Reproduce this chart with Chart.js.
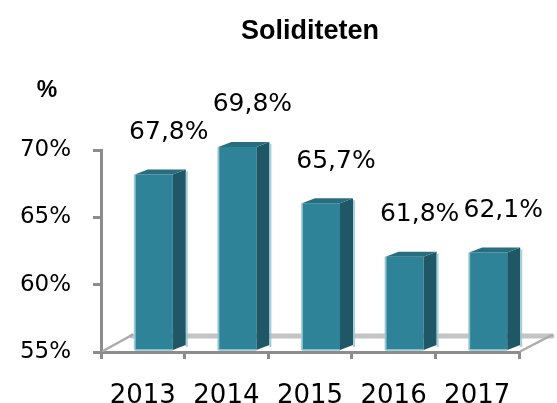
<!DOCTYPE html>
<html>
<head>
<meta charset="utf-8">
<script src="https://cdn.jsdelivr.net/npm/chart.js@4/dist/chart.umd.min.js"></script>
<style>
  body { margin: 0; background: #fff; }
  #wrap { width: 557px; height: 403px; }
</style>
</head>
<body>
<div id="wrap"><canvas id="solidityChart"></canvas></div>
<script>
// data
const categories = ['2013', '2014', '2015', '2016', '2017'];
const solidity = [67.8, 69.8, 65.7, 61.8, 62.1];
const yTicks = [55, 60, 65, 70];

const axisGrey = '#8c8c8c';
const depthX = 13, depthY = 5;

// fake 3D: floor, side and top faces, value labels
const bars3d = {
    id: 'bars3d',
    beforeDatasetsDraw(chart) {
        const { ctx, chartArea: a } = chart;
        ctx.save();
        ctx.lineCap = 'round';
        ctx.strokeStyle = '#c4c4c4';
        ctx.lineWidth = 5;
        ctx.beginPath();
        ctx.moveTo(a.left + 31, a.bottom - 16);
        ctx.lineTo(a.right + 33, a.bottom - 16);
        ctx.stroke();
        ctx.strokeStyle = '#ababab';
        ctx.lineWidth = 2.5;
        ctx.beginPath();
        ctx.moveTo(a.left + 2, a.bottom - 1);
        ctx.lineTo(a.left + 31, a.bottom - 17);
        ctx.moveTo(a.right + 2, a.bottom - 1);
        ctx.lineTo(a.right + 33, a.bottom - 17);
        ctx.stroke();
        ctx.restore();

        ctx.save();
        ctx.translate(11, 0);
    },
    afterDatasetsDraw(chart) {
        const { ctx } = chart;
        const meta = chart.getDatasetMeta(0);
        meta.data.forEach((bar, i) => {
            const l = bar.x - bar.width / 2, r = bar.x + bar.width / 2;
            const y = bar.y, b = bar.base;
            // side
            ctx.fillStyle = '#1f5767';
            ctx.beginPath();
            ctx.moveTo(r, y);
            ctx.lineTo(r + depthX, y - depthY);
            ctx.lineTo(r + depthX, b - depthY);
            ctx.lineTo(r, b);
            ctx.closePath();
            ctx.fill();
            // top
            ctx.fillStyle = '#286e7e';
            ctx.beginPath();
            ctx.moveTo(l, y);
            ctx.lineTo(l + depthX, y - depthY);
            ctx.lineTo(r + depthX, y - depthY);
            ctx.lineTo(r, y);
            ctx.closePath();
            ctx.fill();
            // light edges
            ctx.fillStyle = 'rgba(150,200,212,0.85)';
            ctx.fillRect(l - 1, y, 2, b - y);
            ctx.fillRect(l, b - 1, bar.width, 2);
            ctx.fillRect(r + depthX, y - depthY + 2, 2, b - y);

            // value label
            ctx.fillStyle = '#000';
            ctx.font = '25px "DejaVu Sans"';
            ctx.textAlign = 'center';
            ctx.textBaseline = 'middle';
            const txt = solidity[i].toFixed(1).replace('.', ',') + '%';
            ctx.fillText(txt, bar.x + 15, y - 42);
        });
        ctx.restore();

        // unit label
        ctx.save();
        ctx.fillStyle = '#000';
        ctx.font = 'bold 23px "Liberation Sans"';
        ctx.textAlign = 'center';
        ctx.textBaseline = 'middle';
        ctx.fillText('%', 47, 91);
        ctx.restore();
    }
};

const ctx = document.getElementById('solidityChart').getContext('2d');
new Chart(ctx, {
    type: 'bar',
    data: {
        labels: categories,
        datasets: [{
            label: 'Soliditeten',
            data: solidity,
            yAxisID: 'y2',
            base: yTicks[0],
            backgroundColor: '#2e8398',
            borderWidth: 0,
            barPercentage: 0.455,
            categoryPercentage: 1,
            clip: false
        }]
    },
    options: {
        responsive: true,
        maintainAspectRatio: false,
        animation: false,
        layout: { padding: { left: 0, right: 38, top: 0, bottom: 0 } },
        plugins: {
            legend: { display: false },
            tooltip: { enabled: false },
            title: {
                display: true,
                text: 'Soliditeten',
                fullSize: false,
                color: '#000',
                font: { family: 'Liberation Sans', size: 27, weight: 'bold', lineHeight: 1.2 },
                padding: { top: 15, bottom: 102.6 }
            }
        },
        scales: {
            x: {
                afterFit(s) { s.height = 51; },
                grid: { drawOnChartArea: false, color: axisGrey, lineWidth: 3, tickLength: 7 },
                border: { display: true, color: axisGrey, width: 3 },
                ticks: { color: '#000', padding: 24, font: { family: 'DejaVu Sans', size: 26, lineHeight: 1 } }
            },
            y: {
                min: yTicks[0],
                max: yTicks[yTicks.length - 1],
                afterFit(s) { s.width = 101; },
                afterBuildTicks(s) { s.ticks = yTicks.map(v => ({ value: v })); },
                grid: { drawOnChartArea: false, color: axisGrey, lineWidth: 3, tickLength: 8 },
                border: { display: true, color: axisGrey, width: 3 },
                ticks: {
                    color: '#000',
                    padding: 22,
                    font: { family: 'DejaVu Sans', size: 23 },
                    callback: v => v + '%'
                }
            },
            y2: {
                display: false,
                min: 54.854,
                max: 69.577
            }
        }
    },
    plugins: [bars3d]
});
</script>
</body>
</html>
